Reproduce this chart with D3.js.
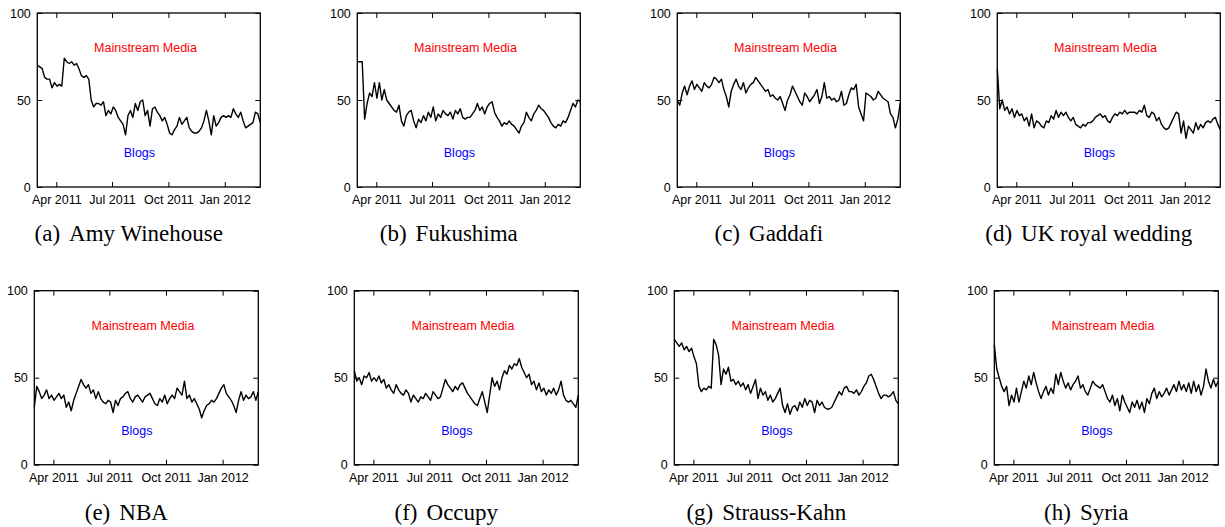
<!DOCTYPE html>
<html>
<head>
<meta charset="utf-8">
<script src="https://cdn.jsdelivr.net/npm/d3@7"></script>
<style>
  body { margin: 0; background: #fff; }
  svg { display: block; }
  .tick text { font-family: "Liberation Sans", Arial, Helvetica, sans-serif; font-size: 12.5px; fill: #000; }
</style>
</head>
<body>
<div id="wrap"></div>
<script>
//  Share of the coverage per topic, one reading every 4 days from 1 March 2011
const startDate = new Date(2011, 2, 1);
const stepDays = 4;

const amyWinehouse = [70, 69, 68, 63, 62, 62, 57, 60, 58, 59, 58, 74, 72, 71, 72, 70, 71, 68, 64, 63,
  64, 62, 50, 46, 48, 48, 47, 49, 41, 44, 42, 46, 44, 40, 38, 36, 30, 41, 44, 40,
  48, 44, 49, 50, 41, 44, 35, 45, 46, 43, 41, 38, 40, 36, 31, 30, 33, 35, 40, 36,
  38, 40, 34, 32, 31, 31, 32, 34, 38, 44, 38, 30, 41, 35, 37, 40, 41, 40, 41, 40,
  45, 42, 40, 43, 38, 34, 35, 36, 37, 43, 42, 37];

const fukushima = [72, 72, 72, 39, 48, 54, 52, 60, 51, 60, 50, 56, 50, 48, 46, 44, 43, 47, 38, 35,
  41, 43, 44, 38, 34, 39, 37, 41, 38, 43, 40, 46, 38, 42, 40, 44, 42, 41, 43, 39,
  44, 42, 45, 40, 39, 40, 40, 42, 44, 48, 44, 46, 42, 46, 48, 49, 43, 40, 38, 35,
  37, 36, 38, 36, 35, 33, 31, 35, 37, 43, 40, 38, 42, 44, 47, 45, 44, 42, 40, 37,
  35, 34, 36, 35, 38, 37, 40, 44, 48, 46, 50, 49];

const gaddafi = [50, 47, 54, 58, 53, 58, 61, 56, 59, 57, 55, 60, 58, 57, 59, 63, 62, 60, 62, 56,
  52, 46, 55, 59, 62, 58, 56, 60, 54, 57, 59, 60, 63, 61, 59, 57, 55, 56, 52, 53,
  51, 50, 52, 48, 44, 50, 53, 58, 55, 52, 49, 47, 54, 52, 49, 51, 53, 56, 48, 52,
  60, 51, 52, 50, 51, 49, 50, 55, 47, 48, 53, 57, 56, 59, 46, 42, 38, 54, 53, 52,
  50, 51, 55, 53, 51, 50, 49, 42, 40, 34, 39, 48];

const royalWedding = [68, 45, 50, 44, 46, 42, 45, 40, 44, 41, 42, 38, 40, 35, 42, 34, 38, 37, 35, 34,
  38, 37, 41, 39, 44, 40, 43, 41, 43, 40, 38, 40, 36, 35, 34, 36, 35, 37, 37, 38,
  40, 41, 42, 40, 41, 38, 37, 40, 42, 41, 43, 42, 44, 42, 43, 43, 43, 42, 44, 43,
  47, 41, 40, 43, 42, 38, 40, 36, 34, 33, 34, 37, 40, 43, 42, 31, 38, 28, 35, 33,
  31, 37, 33, 36, 34, 37, 38, 37, 39, 40, 36, 33];

const nba = [33, 45, 42, 38, 40, 43, 38, 40, 37, 39, 41, 38, 40, 33, 36, 31, 37, 41, 45, 49,
  46, 44, 46, 41, 43, 38, 42, 38, 36, 35, 37, 36, 30, 37, 34, 38, 39, 41, 42, 38,
  36, 39, 40, 38, 36, 39, 40, 41, 38, 35, 34, 38, 36, 40, 35, 38, 40, 38, 44, 42,
  40, 48, 38, 40, 36, 38, 35, 32, 27, 31, 34, 35, 37, 36, 38, 41, 44, 46, 41, 39,
  37, 34, 30, 37, 42, 37, 40, 38, 39, 42, 37, 42];

const occupy = [54, 48, 50, 46, 51, 50, 53, 48, 50, 48, 51, 47, 49, 44, 46, 43, 41, 46, 43, 41,
  40, 43, 41, 36, 40, 38, 36, 39, 38, 41, 39, 37, 42, 40, 38, 39, 44, 49, 46, 44,
  42, 45, 43, 46, 47, 44, 41, 39, 37, 35, 34, 38, 42, 36, 30, 40, 50, 45, 48, 43,
  50, 54, 52, 57, 55, 58, 57, 61, 56, 53, 50, 52, 46, 48, 43, 47, 42, 44, 40, 43,
  41, 44, 40, 43, 48, 40, 37, 36, 37, 35, 33, 40];

const straussKahn = [72, 70, 68, 70, 66, 68, 65, 67, 62, 58, 45, 42, 44, 43, 45, 44, 72, 69, 63, 46,
  55, 52, 56, 48, 49, 46, 48, 45, 47, 43, 46, 41, 45, 49, 38, 44, 40, 42, 37, 40,
  36, 38, 41, 44, 34, 30, 35, 29, 33, 34, 31, 36, 33, 38, 34, 37, 36, 30, 37, 34,
  36, 33, 32, 32, 33, 36, 39, 42, 40, 44, 45, 42, 42, 41, 43, 40, 42, 45, 47, 51,
  52, 49, 45, 41, 38, 40, 40, 39, 40, 42, 37, 35];

const syria = [69, 55, 50, 45, 42, 45, 34, 40, 36, 44, 36, 42, 48, 44, 51, 46, 53, 47, 42, 38,
  42, 45, 40, 44, 41, 52, 46, 53, 48, 44, 47, 43, 46, 48, 51, 44, 46, 42, 40, 44,
  48, 46, 45, 44, 46, 42, 38, 36, 40, 34, 38, 31, 40, 36, 33, 30, 36, 33, 37, 32,
  36, 30, 38, 35, 41, 44, 38, 42, 39, 41, 44, 40, 43, 46, 42, 48, 43, 46, 42, 47,
  41, 48, 42, 46, 40, 45, 55, 48, 44, 49, 45, 48];

const panelLetters = ["a", "b", "c", "d", "e", "f", "g", "h"];
const panelTitles = ["Amy Winehouse", "Fukushima", "Gaddafi", "UK royal wedding",
  "NBA", "Occupy", "Strauss-Kahn", "Syria"];
const panelSeries = [amyWinehouse, fukushima, gaddafi, royalWedding,
  nba, occupy, straussKahn, syria];

const yTicks = [0, 50, 100];
const xTickDates = [new Date(2011, 3, 1), new Date(2011, 6, 1), new Date(2011, 9, 1), new Date(2012, 0, 1)];
const xTickLabels = ["Apr 2011", "Jul 2011", "Oct 2011", "Jan 2012"];
const dateRange = [new Date(2011, 2, 1), new Date(2012, 1, 28)];

//  layout of the 2 x 4 grid (the second row sits a few pixels further left)
const rowTops = [13, 290.7];
const rowLefts = [[37.3, 357.3, 677.3, 997.3], [34.3, 354.3, 674.3, 994.3]];
const rowWidths = [223, 224];
const plotHeight = 174;
const captionBaselines = [241, 519.5];

const svg = d3.select("#wrap").append("svg")
  .attr("width", 1225)
  .attr("height", 527);

panelSeries.forEach(function (values, i) {
  const row = Math.floor(i / 4), col = i % 4;
  const width = rowWidths[row];
  const left = rowLefts[row][col];
  const top = rowTops[row];

  const x = d3.scaleTime().domain(dateRange).range([0, width]);
  const y = d3.scaleLinear().domain([0, 100]).range([plotHeight, 0]);

  const g = svg.append("g").attr("transform", "translate(" + left + "," + top + ")");

  const points = values.map(function (v, k) {
    return { date: d3.timeDay.offset(startDate, k * stepDays), value: v };
  });

  //  axes: ticks point inwards and are mirrored on the top and right
  g.append("g")
    .attr("transform", "translate(0," + plotHeight + ")")
    .call(d3.axisBottom(x).tickValues(xTickDates)
      .tickFormat(function (d, k) { return xTickLabels[k]; })
      .tickSizeInner(-5).tickSizeOuter(0).tickPadding(8.4));
  g.append("g")
    .call(d3.axisTop(x).tickValues(xTickDates).tickFormat("")
      .tickSizeInner(-5).tickSizeOuter(0));
  g.append("g")
    .call(d3.axisLeft(y).tickValues(yTicks)
      .tickSizeInner(-5).tickSizeOuter(0).tickPadding(6.5));
  g.append("g")
    .attr("transform", "translate(" + width + ",0)")
    .call(d3.axisRight(y).tickValues(yTicks).tickFormat("")
      .tickSizeInner(-5).tickSizeOuter(0));
  g.selectAll(".domain").remove();
  g.selectAll(".tick line").attr("stroke", "#000").attr("stroke-width", 1);

  g.append("path")
    .datum(points)
    .attr("fill", "none")
    .attr("stroke", "#000")
    .attr("stroke-width", 1.4)
    .attr("stroke-linejoin", "round")
    .attr("d", d3.line().x(function (d) { return x(d.date); }).y(function (d) { return y(d.value); }));

  g.append("rect")
    .attr("width", width)
    .attr("height", plotHeight)
    .attr("fill", "none")
    .attr("stroke", "#000")
    .attr("stroke-width", 1.3);

  g.append("text")
    .attr("x", width * 0.485)
    .attr("y", y(80))
    .attr("dy", "0.36em")
    .attr("text-anchor", "middle")
    .style("font-family", "'Liberation Sans', Arial, sans-serif")
    .style("font-size", "12.5px")
    .attr("fill", "#ff0000")
    .text("Mainstream Media");

  g.append("text")
    .attr("x", width * 0.458)
    .attr("y", y(19.7))
    .attr("dy", "0.36em")
    .attr("text-anchor", "middle")
    .style("font-family", "'Liberation Sans', Arial, sans-serif")
    .style("font-size", "12.5px")
    .attr("fill", "#0000ff")
    .text("Blogs");

  const caption = svg.append("text")
    .attr("x", left + width / 2 - 20)
    .attr("y", captionBaselines[row])
    .attr("text-anchor", "middle")
    .style("font-family", "'Liberation Serif', 'Times New Roman', serif")
    .style("font-size", "23px")
    .attr("fill", "#000");
  caption.append("tspan").text("(" + panelLetters[i] + ")");
  caption.append("tspan").attr("dx", 9).text(panelTitles[i]);
});
</script>
</body>
</html>
